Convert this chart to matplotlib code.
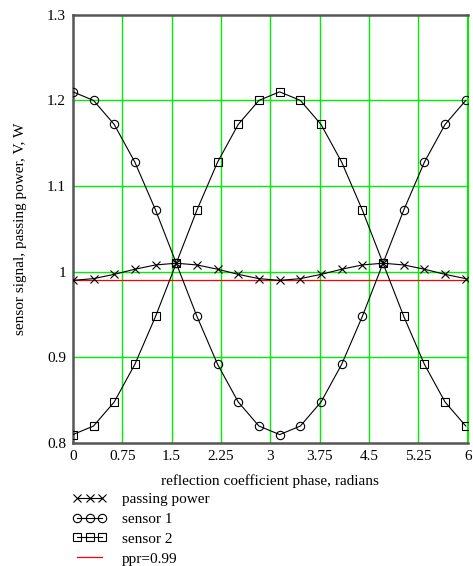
import numpy as np
import matplotlib.pyplot as plt

# phase samples (radians)
phase = [0.0, 0.314, 0.628, 0.942, 1.257, 1.571, 1.885, 2.199, 2.513, 2.827,
         3.142, 3.456, 3.770, 4.084, 4.398, 4.712, 5.027, 5.341, 5.655, 5.969]

passing_power = [0.990, 0.992, 0.997, 1.003, 1.008, 1.010, 1.008, 1.003, 0.997, 0.992,
                 0.990, 0.992, 0.997, 1.003, 1.008, 1.010, 1.008, 1.003, 0.997, 0.992]
sensor1 = [1.210, 1.200, 1.172, 1.128, 1.072, 1.010, 0.948, 0.892, 0.848, 0.820,
           0.810, 0.820, 0.848, 0.892, 0.948, 1.010, 1.072, 1.128, 1.172, 1.200]
sensor2 = [0.810, 0.820, 0.848, 0.892, 0.948, 1.010, 1.072, 1.128, 1.172, 1.200,
           1.210, 1.200, 1.172, 1.128, 1.072, 1.010, 0.948, 0.892, 0.848, 0.820]
ppr = 0.99

xticks = [0, 0.75, 1.5, 2.25, 3, 3.75, 4.5, 5.25, 6]
xticklabels = ['0', '0.75', '1.5', '2.25', '3', '3.75', '4.5', '5.25', '6']
yticks = [0.8, 0.9, 1.0, 1.1, 1.2, 1.3]
yticklabels = ['0.8', '0.9', '1', '1.1', '1.2', '1.3']

plt.rcParams['font.family'] = ['Liberation Serif', 'DejaVu Serif']
plt.rcParams['font.size'] = 11

fig = plt.figure(figsize=(4.73, 5.66), dpi=100)
ax = fig.add_axes([0.154, 0.217, 0.835, 0.757])

green = '#00ee00'
for xv in xticks[1:]:
    ax.axvline(xv, color=green, lw=1.0, zorder=1)
for yv in yticks[1:-1]:
    ax.axhline(yv, color=green, lw=1.0, zorder=1)

ax.plot(phase, passing_power, color='black', lw=0.8, marker='x', ms=5.5, mew=0.8,
        label='passing power', zorder=3)
ax.plot(phase, sensor1, color='black', lw=0.8, marker='o', ms=6, mfc='none', mew=0.8,
        label='sensor 1', zorder=3)
ax.plot(phase, sensor2, color='black', lw=0.8, marker='s', ms=6, mfc='none', mew=0.8,
        label='sensor 2', zorder=3)
ax.plot([0, 6], [ppr, ppr], color='red', lw=0.9, label='ppr=0.99', zorder=2)

ax.set_xlim(0, 6)
ax.set_ylim(0.8, 1.3)
ax.set_xticks(xticks)
ax.set_xticklabels(xticklabels)
ax.set_yticks(yticks)
ax.set_yticklabels(yticklabels)
ax.tick_params(length=0, pad=5)

for s in ['left', 'bottom', 'top']:
    ax.spines[s].set_color('#555555')
    ax.spines[s].set_linewidth(1.8)
ax.spines['right'].set_color(green)
ax.spines['right'].set_linewidth(1.5)

ax.set_xlabel('reflection coefficient phase, radians', labelpad=8)
ax.set_ylabel('sensor signal, passing power, V, W', labelpad=14)

ax.legend(loc='upper left', bbox_to_anchor=(0.0, -0.115), frameon=False,
          numpoints=3, handlelength=2.2, handletextpad=1.0, labelspacing=0.4,
          borderaxespad=0, borderpad=0)

fig.savefig('out.png', dpi=100)
